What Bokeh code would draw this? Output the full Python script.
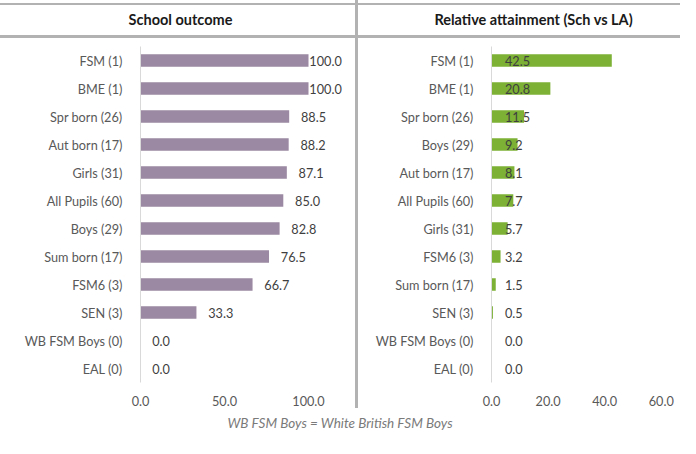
import numpy as np
from bokeh.plotting import figure
from bokeh.models import (ColumnDataSource, FactorRange, Range1d, FixedTicker,
                          NumeralTickFormatter, Div)
from bokeh.layouts import row, column
from bokeh.core.properties import value
from bokeh.embed import file_html
from bokeh.resources import INLINE

# ---------------- data ----------------
title_left = "School outcome"
title_right = "Relative attainment (Sch vs LA)"
footnote = "WB FSM Boys = White British FSM Boys"

cats_left = ["FSM (1)", "BME (1)", "Spr born (26)", "Aut born (17)", "Girls (31)",
             "All Pupils (60)", "Boys (29)", "Sum born (17)", "FSM6 (3)", "SEN (3)",
             "WB FSM Boys (0)", "EAL (0)"]
vals_left = [100.0, 100.0, 88.5, 88.2, 87.1, 85.0, 82.8, 76.5, 66.7, 33.3, 0.0, 0.0]
ticks_left = [0, 50, 100]

cats_right = ["FSM (1)", "BME (1)", "Spr born (26)", "Boys (29)", "Aut born (17)",
              "All Pupils (60)", "Girls (31)", "FSM6 (3)", "Sum born (17)", "SEN (3)",
              "WB FSM Boys (0)", "EAL (0)"]
vals_right = [42.5, 20.8, 11.5, 9.2, 8.1, 7.7, 5.7, 3.2, 1.5, 0.5, 0.0, 0.0]
ticks_right = [0, 20, 40, 60]

# ---------------- style ----------------
FONT = "Lato"
PURPLE = "#9b88a2"
GREEN = "#7cb135"
LINE = "#b2b2b2"
CAT_COLOR = "#595959"
LBL_COLOR = "#3f3f3f"
FS = "12.7px"

TITLE_H = 38
FRAME_H = 336
PLOT_H = 370
TOP = 8
LEFT_W = 355
SEP_W = 3
RIGHT_W = 322


def style(p, ticks):
    p.xaxis.ticker = FixedTicker(ticks=ticks)
    p.xaxis.formatter = NumeralTickFormatter(format="0.0")
    p.xaxis.axis_line_color = None
    p.xaxis.major_tick_line_color = None
    p.xaxis.minor_tick_line_color = None
    p.xaxis.major_label_text_font = FONT
    p.xaxis.major_label_text_font_size = FS
    p.xaxis.major_label_text_color = CAT_COLOR
    p.xaxis.major_label_standoff = 7
    p.yaxis.axis_line_color = "#d9d9d9"
    p.yaxis.major_tick_line_color = None
    p.yaxis.minor_tick_line_color = None
    p.yaxis.major_label_text_font = FONT
    p.yaxis.major_label_text_font_size = FS
    p.yaxis.major_label_text_color = CAT_COLOR
    p.yaxis.major_label_standoff = 12
    p.xgrid.grid_line_color = None
    p.ygrid.grid_line_color = None
    p.outline_line_color = None
    p.y_range.range_padding = 0


# ---------------- left chart ----------------
px_l = 1.68
fw_l = 205
bl_l = 140
p1 = figure(width=LEFT_W, height=PLOT_H, output_backend="svg", toolbar_location=None,
            y_range=FactorRange(factors=cats_left[::-1]),
            x_range=Range1d(0, fw_l / px_l),
            min_border_left=bl_l, min_border_right=LEFT_W - bl_l - fw_l,
            min_border_top=TOP, min_border_bottom=PLOT_H - TOP - FRAME_H, margin=0)
vl = np.array(vals_left)
src1 = ColumnDataSource(dict(cat=cats_left, val=vals_left,
                             lx=np.minimum(vl + 7.0, 100.5),
                             lbl=[f"{v:.1f}" for v in vals_left]))
p1.hbar(y="cat", right="val", left=0, height=0.45, source=src1,
        fill_color=PURPLE, line_color=None)
p1.text(x="lx", y="cat", text="lbl", source=src1, text_font=value(FONT),
        text_font_size=FS, text_color=LBL_COLOR, text_baseline="middle",
        text_align="left")
style(p1, ticks_left)

# ---------------- right chart ----------------
px_r = 2.83
fw_r = 187
bl_r = 133
p2 = figure(width=RIGHT_W, height=PLOT_H, output_backend="svg", toolbar_location=None,
            y_range=FactorRange(factors=cats_right[::-1]),
            x_range=Range1d(0, fw_r / px_r),
            min_border_left=bl_r, min_border_right=RIGHT_W - bl_r - fw_r,
            min_border_top=TOP, min_border_bottom=PLOT_H - TOP - FRAME_H, margin=0)
src2 = ColumnDataSource(dict(cat=cats_right, val=vals_right,
                             zero=[0.0] * len(vals_right),
                             lbl=[f"{v:.1f}" for v in vals_right]))
p2.hbar(y="cat", right="val", left=0, height=0.45, source=src2,
        fill_color=GREEN, line_color=None)
p2.text(x="zero", y="cat", text="lbl", source=src2, text_font=value(FONT),
        text_font_size=FS, text_color=LBL_COLOR, text_baseline="middle",
        text_align="left", x_offset=13.5)
style(p2, ticks_right)

# ---------------- titles, separator, footnote ----------------
def title_div(txt, w, pad_left=0):
    html = (f'<div style="box-sizing:border-box;width:{w}px;height:{TITLE_H - 3}px;'
            f'margin-top:3px;'
            f'border-top:2px solid {LINE};border-bottom:3px solid {LINE};'
            f'font-family:{FONT};font-weight:bold;font-size:14.5px;color:#1a1a1a;'
            f'text-align:center;line-height:29px;padding-left:{pad_left}px;">{txt}</div>')
    return Div(text=html, width=w, height=TITLE_H, margin=0)

t1 = title_div(title_left, LEFT_W, pad_left=6)
t2 = title_div(title_right, RIGHT_W, pad_left=29)
sep = Div(text=f'<div style="width:{SEP_W}px;height:{TITLE_H + PLOT_H}px;background:{LINE};"></div>',
          width=SEP_W, height=TITLE_H + PLOT_H, margin=0)
foot = Div(text=(f'<div style="width:680px;text-align:center;font-family:{FONT};'
                 f'font-style:italic;font-size:13.5px;color:#7a7a7a;padding-top:6px;">'
                 f'{footnote}</div>'), width=680, height=30, margin=0)

layout = column(row(column(t1, p1, margin=0, spacing=0), sep,
                    column(t2, p2, margin=0, spacing=0), margin=0, spacing=0),
                foot, margin=0, spacing=0)

open("out.html", "w").write(file_html(layout, INLINE))
